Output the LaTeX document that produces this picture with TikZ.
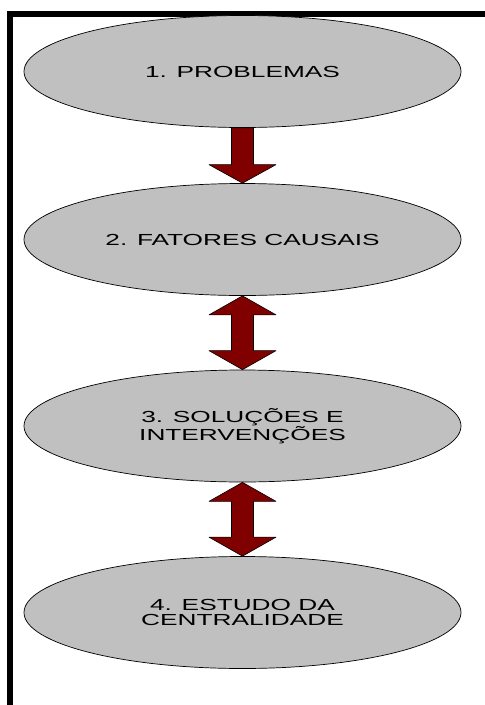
\documentclass[tikz,border=0pt]{standalone}
\usepackage{fontspec}
\setmainfont[FakeStretch=1.64]{Liberation Sans}
\usetikzlibrary{shapes.geometric,calc}

\definecolor{stepgray}{RGB}{192,192,192}
\definecolor{arrowred}{RGB}{128,0,0}

\tikzset{
  stage/.style={ellipse, draw=black, line width=0.7pt, fill=stepgray,
    minimum width=437pt, minimum height=112pt, inner sep=0pt,
    align=center, text=black,
    font=\fontsize{16}{15}\selectfont},
  blockarrow/.style={fill=arrowred, draw=black, line width=0.6pt, line join=round},
}

\begin{document}
\begin{tikzpicture}[x=1pt, y=-1pt]
  \useasboundingbox (0,0) rectangle (485,705);

  % frame: heavy rule along the top and down the left side
  \fill[black] (7,11) rectangle (485,17);
  \fill[black] (7,11) rectangle (13,705);

  % stages
  \node[stage] (e1) at (242.5,71.5) {1. PROBLEMAS};
  \node[stage] (e2) at (242.5,239.5) {2. FATORES CAUSAIS};
  \node[stage] (e3) at (242.5,426) {3. SOLUÇÕES E\\INTERVENÇÕES};
  \node[stage] (e4) at (242.5,612.5) {4. ESTUDO DA\\CENTRALIDADE};

  % single block arrow 1 -> 2
  \draw[blockarrow]
    ($(e1.south)+(-11,0)$) -- ($(e1.south)+(11,0)$)
    -- ($(e2.north)+(11,-18.5)$) -- ($(e2.north)+(33.5,-18.5)$)
    -- (e2.north)
    -- ($(e2.north)+(-33.5,-18.5)$) -- ($(e2.north)+(-11,-18.5)$) -- cycle;

  % double block arrow 2 <-> 3
  \draw[blockarrow]
    (e2.south) -- ($(e2.south)+(33.5,19)$) -- ($(e2.south)+(11,19)$)
    -- ($(e3.north)+(11,-19)$) -- ($(e3.north)+(33.5,-19)$)
    -- (e3.north)
    -- ($(e3.north)+(-33.5,-19)$) -- ($(e3.north)+(-11,-19)$)
    -- ($(e2.south)+(-11,19)$) -- ($(e2.south)+(-33.5,19)$) -- cycle;

  % double block arrow 3 <-> 4
  \draw[blockarrow]
    (e3.south) -- ($(e3.south)+(33.5,19)$) -- ($(e3.south)+(11,19)$)
    -- ($(e4.north)+(11,-19)$) -- ($(e4.north)+(33.5,-19)$)
    -- (e4.north)
    -- ($(e4.north)+(-33.5,-19)$) -- ($(e4.north)+(-11,-19)$)
    -- ($(e3.south)+(-11,19)$) -- ($(e3.south)+(-33.5,19)$) -- cycle;
\end{tikzpicture}
\end{document}
